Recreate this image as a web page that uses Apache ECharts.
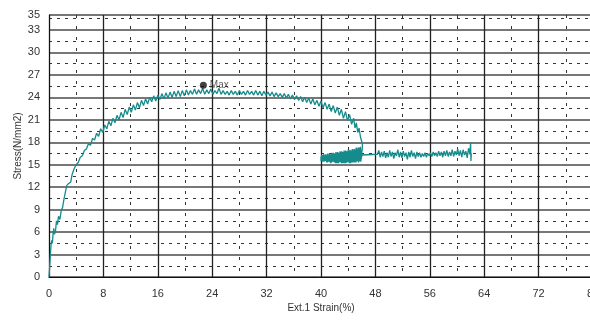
<!DOCTYPE html>
<html><head><meta charset="utf-8">
<script src="https://cdn.jsdelivr.net/npm/echarts@6/dist/echarts.min.js"></script>
<style>html,body{margin:0;padding:0;background:#fff}#c{width:590px;height:320px}</style>
</head><body><div id="c"></div>
<script>
// x ticks / y ticks
const xTicks = [0, 8, 16, 24, 32, 40, 48, 56, 64, 72, 80];
const yTicks = [0, 3, 6, 9, 12, 15, 18, 21, 24, 27, 30, 33, 35];

// [strain %, stress N/mm2]
const rise = [[0,0],[0.1,1.4],[0.2,2.9],[0.3,4.3],[0.4,4.9],[0.5,4.5],[0.6,5.8],[0.7,6.5],[0.8,5.7],[0.95,6.1],[1.1,7.5],[1.25,7.0],[1.4,8.1],[1.6,7.7],[1.8,8.9],[2.0,9.3],[2.2,10.4],[2.4,11.3],[2.6,12.2],[2.9,12.5],[3.2,12.7],[3.4,13.7],[3.7,14.5],[4.0,15.0],[4.3,15.3],[4.6,16.0],[4.9,16.2],[5.2,16.9],[5.5,17.1],[5.8,17.8],[6.1,17.6],[6.4,18.5],[6.7,18.3],[7.0,19.2],[7.3,18.8],[7.6,19.8],[7.9,19.3],[8.2,20.3],[8.5,19.8],[8.8,20.8],[9.1,20.2],[9.4,21.2],[9.7,20.6],[10.0,21.6],[10.3,21.0],[10.6,22.0],[10.9,21.3],[11.2,22.4],[11.5,21.7],[11.8,22.7],[12.1,22.0],[12.4,23.0],[12.7,22.3],[13.0,23.3],[13.3,22.6],[13.6,23.6],[13.9,22.9],[14.2,23.8],[14.5,23.1],[14.8,24.0],[15.1,23.4],[15.4,24.2],[15.7,23.5],[16.0,24.3],[16.3,23.7],[16.6,24.5],[16.9,23.8],[17.2,24.6],[17.5,23.9],[17.8,24.7],[18.1,24.0],[18.4,24.8],[18.7,24.1],[19.0,24.9],[19.3,24.1],[19.6,24.9],[19.9,24.2],[20.2,25.0]];
const plateau = [[20.5,24.3],[20.8,24.9],[21.1,24.4],[21.4,25.1],[21.7,24.4],[22.0,25.0],[22.3,24.5],[22.6,25.2],[22.9,24.4],[23.2,25.0],[23.5,24.5],[23.8,25.1],[24.1,24.4],[24.4,24.9],[24.7,24.5],[25.0,25.2],[25.3,24.4],[25.6,24.9],[25.9,24.4],[26.2,24.8],[26.5,24.3],[26.8,24.9],[27.1,24.4],[27.4,24.8],[27.7,24.3],[28.0,24.9],[28.3,24.4],[28.6,24.8],[28.9,24.3],[29.2,24.9],[29.5,24.4],[29.8,24.8],[30.1,24.3],[30.4,24.9],[30.7,24.3],[31.0,24.8],[31.3,24.2],[31.6,24.8],[31.9,24.3],[32.2,24.7],[32.5,24.2],[32.8,24.7],[33.1,24.1],[33.4,24.6],[33.7,24.1],[34.0,24.5],[34.3,24.0],[34.6,24.5],[34.9,23.9],[35.2,24.4],[35.5,23.8],[35.8,24.3]];
const decline = [[36.1,23.7],[36.4,24.2],[36.7,23.6],[37.0,24.1],[37.3,23.4],[37.6,24.0],[37.9,23.3],[38.2,23.9],[38.5,23.1],[38.8,23.8],[39.1,23.0],[39.4,23.6],[39.7,22.8],[40.0,23.5],[40.3,22.6],[40.6,23.3],[40.9,22.4],[41.2,23.1],[41.5,22.1],[41.8,22.9],[42.1,21.9],[42.4,22.7],[42.7,21.6],[43.0,22.4],[43.3,21.2],[43.6,22.1],[43.9,20.9],[44.2,21.7],[44.5,20.4],[44.8,21.2],[45.0,19.9],[45.2,20.6],[45.4,19.3],[45.6,19.9],[45.8,18.7],[45.95,18.9],[46.05,17.9],[46.1,17.4],[46.0,16.6]];
const clusterBack1 = [[45.85,15.4],[45.7,17.2],[45.55,15.3],[45.4,17.0],[45.25,15.5],[45.1,16.9],[44.95,15.3],[44.8,16.9],[44.65,15.4],[44.5,16.9],[44.35,15.2],[44.2,16.8],[44.05,15.4],[43.9,16.7],[43.75,15.3],[43.6,16.8],[43.45,15.2],[43.3,16.6],[43.15,15.4],[43.0,16.7],[42.85,15.3],[42.7,16.5],[42.55,15.2],[42.4,16.6],[42.25,15.4],[42.1,16.4],[41.95,15.3],[41.8,16.5],[41.65,15.4],[41.5,16.4],[41.35,15.3],[41.2,16.3],[41.05,15.4],[40.9,16.4],[40.75,15.5],[40.6,16.2],[40.45,15.4],[40.3,16.3],[40.15,15.5],[40.0,16.1],[40.0,15.5]];
const clusterFwd1 = [[40.1,16.3],[40.25,15.4],[40.4,16.4],[40.55,15.5],[40.7,16.3],[40.85,15.3],[41.0,16.5],[41.15,15.4],[41.3,16.4],[41.45,15.2],[41.6,16.6],[41.75,15.4],[41.9,16.5],[42.05,15.3],[42.2,16.7],[42.35,15.2],[42.5,16.6],[42.65,15.4],[42.8,16.8],[42.95,15.3],[43.1,16.7],[43.25,15.2],[43.4,16.9],[43.55,15.4],[43.7,16.8],[43.85,15.3],[44.0,17.0],[44.15,15.2],[44.3,16.9],[44.45,15.4],[44.6,17.1],[44.75,15.3],[44.9,17.1],[45.05,15.4],[45.2,17.3],[45.35,15.5],[45.5,17.2],[45.65,15.6],[45.8,17.4],[45.95,15.8]];
const clusterBack2 = [[45.9,17.0],[45.75,15.5],[45.6,17.3],[45.45,15.4],[45.3,16.8],[45.15,15.3],[45.0,17.0],[44.85,15.4],[44.7,16.7],[44.55,15.3],[44.4,16.9],[44.25,15.3],[44.1,16.6],[43.95,15.4],[43.8,16.8],[43.65,15.2],[43.5,16.5],[43.35,15.3],[43.2,16.7],[43.05,15.2],[42.9,16.4],[42.75,15.4],[42.6,16.6],[42.45,15.3],[42.3,16.3],[42.15,15.2],[42.0,16.5],[41.85,15.4],[41.7,16.2],[41.55,15.3],[41.4,16.4],[41.25,15.4],[41.1,16.2],[40.95,15.3],[40.8,16.3],[40.65,15.5],[40.5,16.2],[40.35,15.4],[40.2,16.1],[40.05,15.6]];
const clusterFwd2 = [[40.2,15.8],[40.35,16.2],[40.5,15.5],[40.65,16.4],[40.8,15.4],[40.95,16.2],[41.1,15.5],[41.25,16.5],[41.4,15.3],[41.55,16.4],[41.7,15.5],[41.85,16.6],[42.0,15.3],[42.15,16.5],[42.3,15.5],[42.45,16.7],[42.6,15.3],[42.75,16.6],[42.9,15.5],[43.05,16.8],[43.2,15.3],[43.35,16.7],[43.5,15.5],[43.65,16.9],[43.8,15.3],[43.95,16.8],[44.1,15.5],[44.25,17.0],[44.4,15.3],[44.55,16.9],[44.7,15.5],[44.85,17.1],[45.0,15.4],[45.15,17.2],[45.3,15.6],[45.45,17.3],[45.6,15.7],[45.75,17.2],[45.9,15.9],[46.05,16.3],[48.3,16.4]];
const tail = [[48.5,16.9],[48.7,16.0],[48.9,16.7],[49.1,16.1],[49.3,16.8],[49.5,15.9],[49.7,16.6],[49.9,16.0],[50.1,16.9],[50.3,16.1],[50.5,16.7],[50.7,15.8],[50.9,16.6],[51.1,16.2],[51.3,17.0],[51.5,16.0],[51.7,16.7],[51.9,15.9],[52.1,16.8],[52.3,16.1],[52.5,16.6],[52.7,15.7],[52.9,16.7],[53.1,16.0],[53.3,16.9],[53.5,16.1],[53.7,16.6],[53.9,15.8],[54.1,16.7],[54.3,16.1],[54.5,16.6],[54.7,16.0],[54.9,16.5],[55.1,16.1],[55.3,16.6],[55.5,16.0],[55.7,16.5],[55.9,16.2],[56.1,16.6],[56.3,16.1],[56.5,16.7],[56.7,16.2],[56.9,16.6],[57.1,16.1],[57.3,16.8],[57.5,16.2],[57.7,16.7],[57.9,16.0],[58.1,16.8],[58.3,16.2],[58.5,16.9],[58.7,16.1],[58.9,16.7],[59.1,16.2],[59.3,17.0],[59.5,16.1],[59.7,16.8],[59.9,16.3],[60.1,17.1],[60.3,16.2],[60.5,16.9],[60.7,16.0],[60.9,17.0],[61.1,16.3],[61.3,16.8],[61.5,15.9],[61.7,17.2],[61.9,16.4],[62.0,18.0],[62.05,15.5],[62.1,16.5]];
const maxPoint = [22.7, 25.6];
const maxLabel = 'Max';

const curve = [].concat(rise, plateau, decline, clusterBack1, clusterFwd1, clusterBack2, clusterFwd2, tail);

const chart = echarts.init(document.getElementById('c'), null, {renderer: 'canvas'});
const font = '"Liberation Sans", Arial, sans-serif';
chart.setOption({
  animation: false,
  backgroundColor: '#fff',
  grid: {left: 49, top: 15, bottom: 43, width: 544, containLabel: false, outerBoundsMode: 'none'},
  xAxis: {
    type: 'value', min: xTicks[0], max: xTicks[xTicks.length - 1], interval: 8,
    name: 'Ext.1 Strain(%)', nameLocation: 'middle', nameGap: 26, nameMoveOverlap: false,
    nameTextStyle: {fontFamily: font, fontSize: 10, color: '#333'},
    axisLine: {show: true, lineStyle: {color: '#111', width: 1}},
    axisTick: {show: false},
    axisLabel: {fontFamily: font, fontSize: 11, color: '#333', margin: 11, showMaxLabel: true},
    splitLine: {show: true, lineStyle: {color: '#222', width: 1.3}},
    minorTick: {show: false, splitNumber: 2},
    minorSplitLine: {show: true, lineStyle: {color: '#333', width: 1, type: [3, 8]}}
  },
  yAxis: {
    type: 'value', min: yTicks[0], max: yTicks[yTicks.length - 1], interval: 3,
    name: 'Stress(N/mm2)', nameLocation: 'middle', nameGap: 26, nameMoveOverlap: false,
    nameTextStyle: {fontFamily: font, fontSize: 10, color: '#333'},
    axisLine: {show: true, lineStyle: {color: '#111', width: 1}},
    axisTick: {show: false},
    axisLabel: {fontFamily: font, fontSize: 11, color: '#333', margin: 9, showMaxLabel: true},
    splitLine: {show: true, lineStyle: {color: '#777', width: 2}},
    minorTick: {show: false, splitNumber: 2},
    minorSplitLine: {show: true, lineStyle: {color: '#333', width: 1, type: [3, 5]}}
  },
  series: [
    {type: 'line', data: curve, showSymbol: false, smooth: false,
     lineStyle: {color: '#168b8b', width: 1.3}, z: 3},
    {type: 'scatter', data: [maxPoint], symbol: 'circle', symbolSize: 7,
     itemStyle: {color: '#111'}, z: 4,
     label: {show: true, formatter: maxLabel, position: 'right', distance: 3,
             fontFamily: font, fontSize: 10, color: '#333'}}
  ]
});
</script></body></html>
